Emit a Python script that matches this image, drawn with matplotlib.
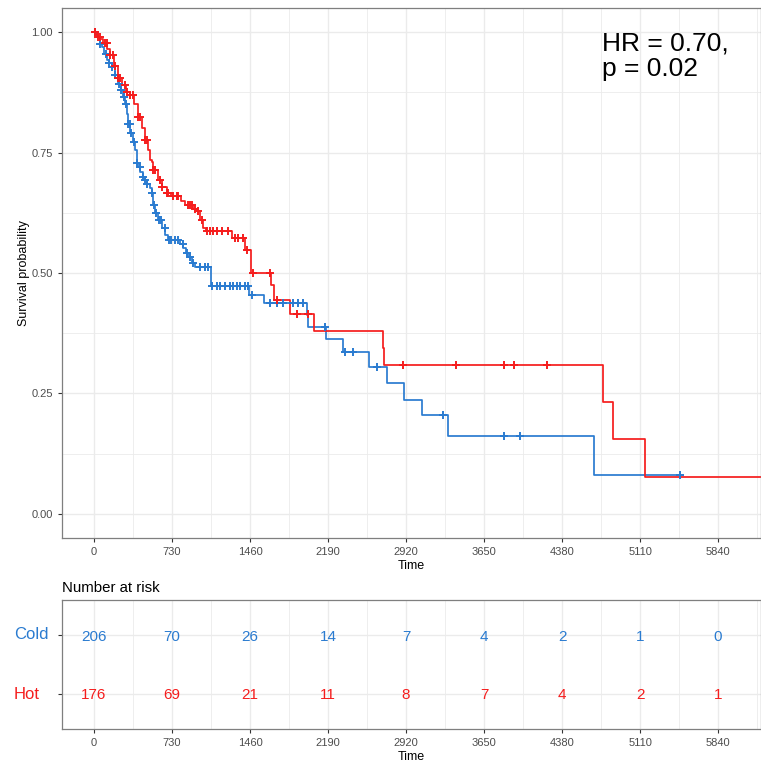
import numpy as np
import matplotlib.pyplot as plt
from matplotlib.ticker import MultipleLocator
from matplotlib.transforms import blended_transform_factory

plt.rcParams['font.family'] = ['Liberation Sans', 'DejaVu Sans']

# Kaplan-Meier steps (time in days, survival after the step)
cold_time = [0, 30, 60, 72, 95, 118, 140, 165, 195, 228, 250, 275, 290, 306, 320, 337, 360, 384,
             399, 415, 431, 455, 477, 500, 524, 540, 555, 571, 602, 633, 664, 696, 800, 836, 860,
             883, 914, 945, 1090, 1449, 1595, 1993, 2006, 2168, 2330, 2569, 2739, 2904, 3067,
             3316, 4683, 5484]
cold_surv = [1.0, 0.99, 0.975, 0.970, 0.955, 0.942, 0.935, 0.928, 0.91, 0.893, 0.88, 0.866, 0.85,
             0.831, 0.81, 0.790, 0.772, 0.755, 0.728, 0.72, 0.710, 0.70, 0.693, 0.684, 0.676,
             0.665, 0.641, 0.624, 0.610, 0.593, 0.579, 0.568, 0.560, 0.551, 0.542, 0.534, 0.520,
             0.512, 0.473, 0.454, 0.437, 0.413, 0.388, 0.362, 0.337, 0.305, 0.272, 0.237, 0.205,
             0.162, 0.081, 0.081]
cold_censor = [10, 60, 110, 140, 170, 200, 230, 250, 280, 300, 320, 335, 350, 370, 400, 430, 460,
               480, 500, 540, 560, 580, 610, 630, 660, 700, 720, 760, 790, 830, 870, 900, 930,
               992, 1039, 1070, 1101, 1148, 1179, 1226, 1273, 1304, 1335, 1366, 1413, 1444, 1476,
               1647, 1710, 1772, 1866, 1913, 1960, 2162, 2350, 2428, 2646, 3269, 3840, 3987, 5484]

hot_time = [0, 20, 40, 60, 87, 120, 150, 190, 228, 260, 300, 337, 375, 415, 445, 477, 505, 524,
            540, 555, 602, 633, 680, 720, 810, 852, 930, 961, 992, 1023, 1048, 1295, 1413, 1466,
            1653, 1688, 1838, 2062, 2702, 2717, 4760, 4860, 5157, 6240]
hot_surv = [1.0, 0.995, 0.99, 0.985, 0.977, 0.965, 0.952, 0.93, 0.904, 0.89, 0.875, 0.869, 0.85,
            0.824, 0.80, 0.776, 0.755, 0.734, 0.731, 0.714, 0.693, 0.679, 0.665, 0.659, 0.650,
            0.641, 0.633, 0.628, 0.610, 0.593, 0.588, 0.573, 0.548, 0.500, 0.475, 0.444, 0.414,
            0.380, 0.344, 0.309, 0.232, 0.155, 0.077, 0.077]
hot_censor = [9, 40, 56, 103, 119, 150, 181, 197, 228, 243, 290, 306, 337, 368, 415, 430, 477, 493,
              555, 571, 618, 633, 680, 696, 742, 774, 789, 883, 898, 914, 945, 976, 1008, 1055,
              1086, 1117, 1148, 1195, 1257, 1320, 1351, 1398, 1429, 1491, 1647, 1710, 1897, 2006,
              2889, 3385, 3837, 3931, 4242]

# number at risk table
risk_times = [0, 730, 1460, 2190, 2920, 3650, 4380, 5110, 5840]
groups = ['Cold', 'Hot']
cold_risk = [206, 70, 26, 14, 7, 4, 2, 1, 0]
hot_risk = [176, 69, 21, 11, 8, 7, 4, 2, 1]

blue = '#2a7bd0'
red = '#f51d1d'
grid_col = '#ebebeb'
xlim = (-300, 6242)


def surv_at(times, surv, t):
    idx = np.searchsorted(times, t, side='right') - 1
    return np.array(surv)[idx]


def style_axis(ax):
    for s in ax.spines.values():
        s.set_color('#7f7f7f')
        s.set_linewidth(0.9)
    ax.xaxis.set_major_locator(MultipleLocator(730))
    ax.xaxis.set_minor_locator(MultipleLocator(365))
    ax.grid(which='major', color=grid_col, linewidth=1.0)
    ax.grid(which='minor', color=grid_col, linewidth=0.6)
    ax.set_axisbelow(True)
    ax.tick_params(which='major', colors='#333333', labelsize=8, length=3, width=0.8)
    ax.tick_params(which='minor', length=0)
    ax.tick_params(labelcolor='#4d4d4d')
    ax.set_xlim(*xlim)


fig = plt.figure(figsize=(7.61, 7.62), dpi=100)

# main survival plot
ax = fig.add_axes([62 / 761, 224 / 762, 699 / 761, 530 / 762])
style_axis(ax)
ax.step(cold_time, cold_surv, where='post', color=blue, linewidth=1.25)
ax.step(hot_time, hot_surv, where='post', color=red, linewidth=1.25)
ax.plot(cold_censor, surv_at(cold_time, cold_surv, cold_censor), '+', color=blue,
        markersize=6, markeredgewidth=1.4)
ax.plot(hot_censor, surv_at(hot_time, hot_surv, hot_censor), '+', color=red,
        markersize=6, markeredgewidth=1.4)
ax.set_ylim(-0.05, 1.05)
ax.yaxis.set_major_locator(MultipleLocator(0.25))
ax.yaxis.set_minor_locator(MultipleLocator(0.125))
ax.yaxis.set_major_formatter(lambda v, p: f'{v:.2f}')
ax.set_xlabel('Time', fontsize=9, labelpad=2)
ax.set_ylabel('Survival probability', fontsize=9, labelpad=1)
ax.text(0.773, 0.956, 'HR = 0.70,\np = 0.02', transform=ax.transAxes, fontsize=19,
        va='top', ha='left', linespacing=1.08)

# risk table
rax = fig.add_axes([62 / 761, 33 / 762, 699 / 761, 129 / 762])
style_axis(rax)
rax.set_ylim(-0.6, 1.6)
rax.set_yticks([1, 0])
rax.set_yticklabels([])
rax.yaxis.set_minor_locator(MultipleLocator(10))
lab_tr = blended_transform_factory(rax.transAxes, rax.transData)
for g, yv, c in zip(groups, [1.04, 0.02], [blue, red]):
    rax.text(-0.0687, yv, g, color=c, fontsize=12, ha='left', va='center_baseline',
             transform=lab_tr)
for t, n in zip(risk_times, cold_risk):
    rax.text(t, 1, str(n), color=blue, fontsize=11, ha='center', va='center_baseline')
for t, n in zip(risk_times, hot_risk):
    rax.text(t, 0, str(n), color=red, fontsize=11, ha='center', va='center_baseline')
rax.set_xlabel('Time', fontsize=9, labelpad=2)
rax.set_title('Number at risk', fontsize=10.8, loc='left', pad=6, x=0)

fig.savefig('out.png', dpi=100)
